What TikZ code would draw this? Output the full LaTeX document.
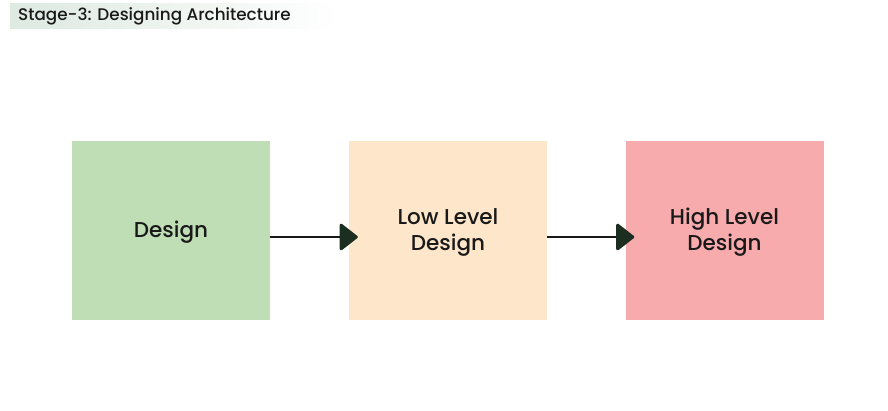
\documentclass[tikz,border=0pt]{standalone}
\usepackage{fontspec}
\setmainfont{Poppins}[UprightFont={* Medium}]
\usetikzlibrary{arrows.meta}
\definecolor{boxgreen}{HTML}{BFDEB6}
\definecolor{boxpeach}{HTML}{FDE6C9}
\definecolor{boxpink}{HTML}{F7ABAD}
\definecolor{arrowdark}{HTML}{1B2E20}
\definecolor{titlebg}{HTML}{DDE9E1}
\begin{document}
\begin{tikzpicture}[x=1pt,y=-1pt,
  stagebox/.style={minimum width=198pt,minimum height=179pt,inner sep=0pt},
  boxtext/.style={align=center,font=\fontsize{21.5}{26}\selectfont,text=black!90,inner sep=0pt},
  flow/.style={line width=2.8pt,draw=black!90,shorten >=-9pt,-{Triangle[length=19pt,width=29pt,round,fill=arrowdark,color=arrowdark]}}]
\useasboundingbox (0,0) rectangle (888,410);
\fill[left color=titlebg,right color=white] (10,3) rectangle (340,28);
\node[anchor=west,font=\fontsize{16.8}{18}\selectfont,text=black!90,inner sep=0pt] (title) at (18,16) {Stage-3: Designing Architecture};
\node[stagebox,fill=boxgreen] (a) at (171,230.5) {};
\node[stagebox,fill=boxpeach] (b) at (448,230.5) {};
\node[stagebox,fill=boxpink] (c) at (724.5,230.5) {};
\node[boxtext] (at) at (171,232.5) {Design};
\node[boxtext] (bt) at (448,232.5) {Low Level\\Design};
\node[boxtext] (ct) at (724.5,232.5) {High Level\\Design};
\draw[flow] (a.east|-0,237) -- (b.west|-0,237);
\draw[flow] (b.east|-0,237) -- (c.west|-0,237);
\end{tikzpicture}
\end{document}
